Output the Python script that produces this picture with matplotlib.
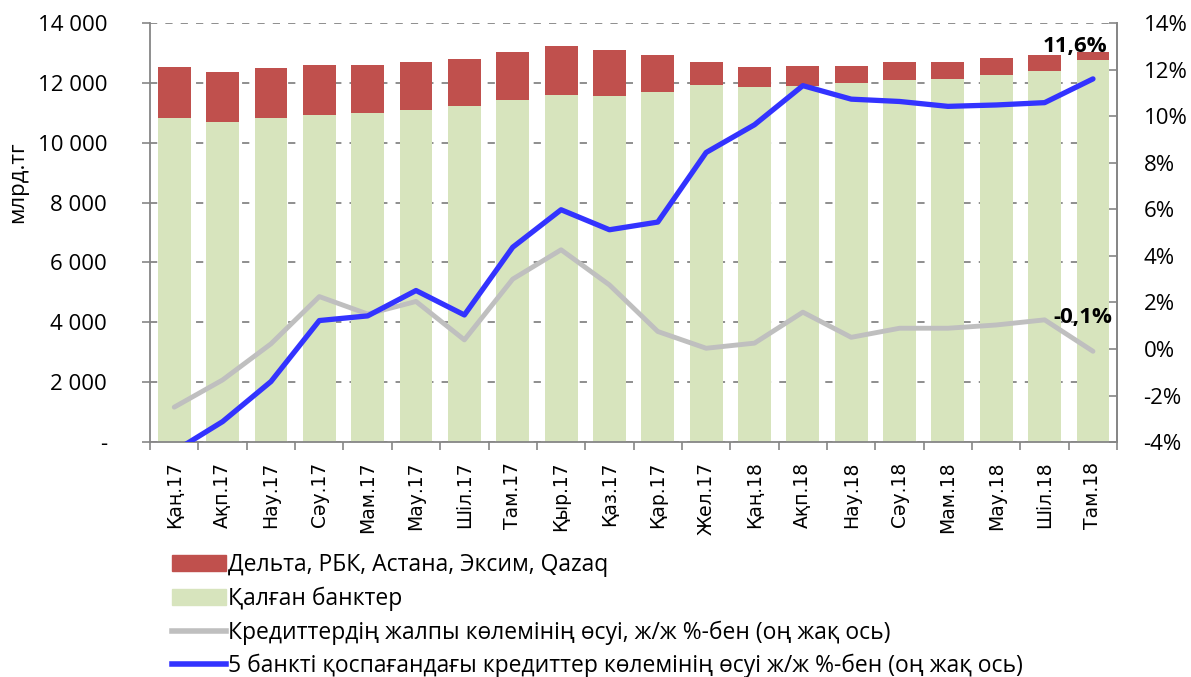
import matplotlib
matplotlib.use("Agg")
import matplotlib.pyplot as plt
import numpy as np
from matplotlib.patches import Patch
from matplotlib.lines import Line2D
from matplotlib.ticker import FixedLocator, FuncFormatter

months = ["Қаң.17", "Ақп.17", "Нау.17", "Сәу.17", "Мам.17", "Мау.17", "Шіл.17",
          "Там.17", "Қыр.17", "Қаз.17", "Қар.17", "Жел.17", "Қаң.18", "Ақп.18",
          "Нау.18", "Сәу.18", "Мам.18", "Мау.18", "Шіл.18", "Там.18"]
other_banks = [10820, 10690, 10820, 10920, 10980, 11100, 11220, 11440, 11610, 11570,
               11700, 11940, 11870, 11900, 11980, 12080, 12140, 12260, 12410, 12770]
total_loans = [12520, 12360, 12510, 12590, 12600, 12700, 12800, 13030, 13220, 13110,
               12940, 12710, 12540, 12550, 12560, 12710, 12710, 12840, 12940, 13030]
five_banks = [t - o for t, o in zip(total_loans, other_banks)]
growth_total = [-2.5, -1.33, 0.22, 2.25, 1.5, 2.04, 0.39, 3.0, 4.26, 2.75,
                0.75, 0.03, 0.25, 1.58, 0.5, 0.89, 0.89, 1.03, 1.25, -0.1]
growth_ex5 = [-4.4, -3.12, -1.4, 1.22, 1.42, 2.51, 1.46, 4.37, 5.98, 5.12,
              5.45, 8.44, 9.63, 11.31, 10.73, 10.63, 10.42, 10.48, 10.58, 11.6]

red = "#C0504D"
green = "#D7E4BD"
gray = "#BFBFBF"
blue = "#3333FF"
axis_col = "#868686"
font = ["Open Sans", "DejaVu Sans"]

fig = plt.figure(figsize=(11.91, 6.77), dpi=100)
ax = fig.add_axes([0.126, 0.347, 0.812, 0.619])
x = np.arange(len(months))

ax.bar(x, other_banks, width=0.68, color=green, zorder=2)
ax.bar(x, five_banks, width=0.68, bottom=other_banks, color=red, zorder=2)

ax.set_xlim(-0.5, len(months) - 0.5)
ax.set_ylim(0, 14000)
ax.set_yticks(np.arange(0, 14001, 2000))
ax.yaxis.set_major_formatter(FuncFormatter(
    lambda v, p: "-" if v == 0 else f"{int(v):,}".replace(",", " ")))
ax.grid(axis="y", color=axis_col, linestyle=(0, (4, 4.5)), linewidth=1.3, zorder=1)
ax.set_ylabel("млрд.тг", fontsize=16, family=font)
ax.yaxis.set_label_coords(-0.126, 0.62)

ax.set_xticks(x)
ax.set_xticklabels(months, rotation=90, fontsize=13.5, family="DejaVu Sans")
ax.tick_params(axis="x", length=0, pad=14)
ax.xaxis.set_minor_locator(FixedLocator(np.arange(-0.5, len(months), 1)))
ax.tick_params(axis="x", which="minor", length=6, color=axis_col, width=1.2)
ax.tick_params(axis="y", length=6, color=axis_col, width=1.2, labelsize=16, pad=25)
for lab in ax.get_yticklabels():
    lab.set_family(font)

ax.spines["top"].set_visible(False)
for s in ["left", "right", "bottom"]:
    ax.spines[s].set_color(axis_col)
    ax.spines[s].set_linewidth(1.3)

ax2 = ax.twinx()
ax2.plot(x, growth_total, color=gray, linewidth=3.5, solid_capstyle="round", zorder=3)
ax2.plot(x, growth_ex5, color=blue, linewidth=3.8, solid_capstyle="round", zorder=4)
ax2.set_ylim(-4, 14)
ax2.set_yticks(np.arange(-4, 15, 2))
ax2.yaxis.set_major_formatter(FuncFormatter(lambda v, p: f"{int(v)}%"))
ax2.tick_params(axis="y", direction="in", length=6, color=axis_col, width=1.2,
                labelsize=16, pad=19)
for lab in ax2.get_yticklabels():
    lab.set_family(font)
for s in ["top", "left", "bottom"]:
    ax2.spines[s].set_visible(False)
ax2.spines["right"].set_color(axis_col)
ax2.spines["right"].set_linewidth(1.3)

ax2.text(x[-1] - 0.37, growth_ex5[-1] + 1.38, "11,6%", ha="center", va="center",
         fontsize=16, fontweight="bold", family=font)
ax2.text(x[-1] - 0.2, growth_total[-1] + 1.43, "-0,1%", ha="center", va="center",
         fontsize=16, fontweight="bold", family=font)

handles = [Patch(color=red), Patch(color=green),
           Line2D([], [], color=gray, linewidth=4),
           Line2D([], [], color=blue, linewidth=4)]
labels = ["Дельта, РБК, Астана, Эксим, Qazaq", "Қалған банктер",
          "Кредиттердің жалпы көлемінің өсуі, ж/ж %-бен (оң жақ ось)",
          "5 банкті қоспағандағы кредиттер көлемінің өсуі ж/ж %-бен (оң жақ ось)"]
fig.legend(handles, labels, loc="upper left", bbox_to_anchor=(0.137, 0.196),
           frameon=False, prop={"family": font, "size": 16.5}, handlelength=2.35,
           handletextpad=0.1, labelspacing=0.4, borderaxespad=0)

fig.savefig("out.png", dpi=100)
